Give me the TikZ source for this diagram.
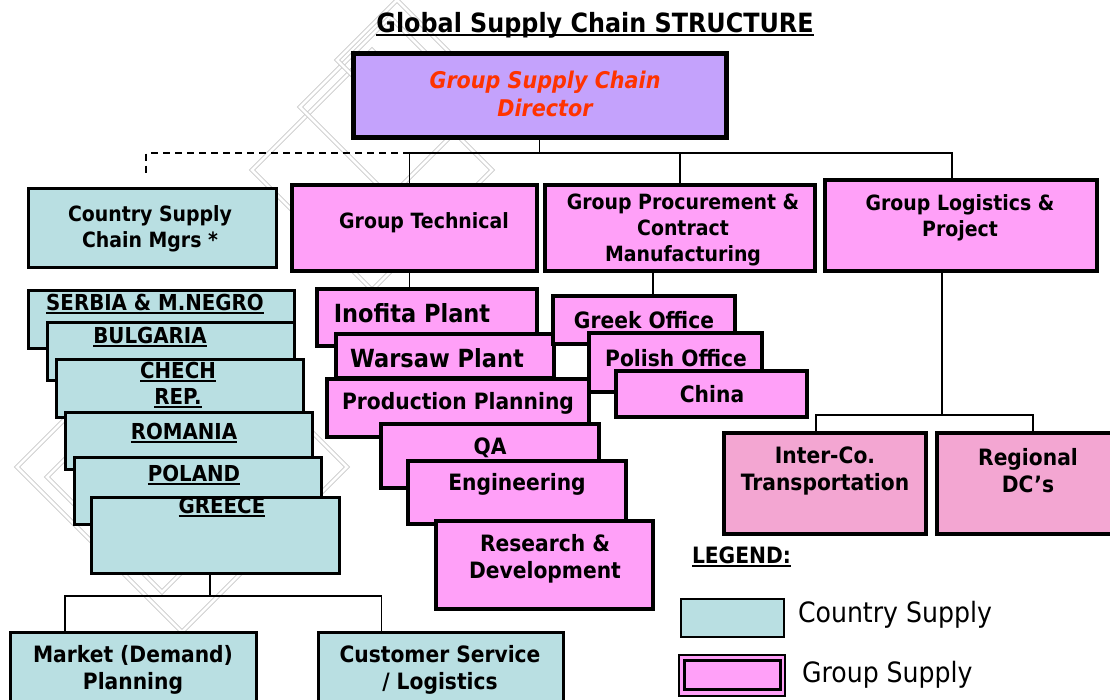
\documentclass[tikz,border=0pt]{standalone}
\usepackage{fontspec}
\setmainfont{DejaVu Sans}[FakeStretch=0.9]
% underline drawn as a rule just below the baseline
\newcommand{\ulbox}[1]{\setbox0\hbox{#1}\rlap{\rule[-0.16em]{\wd0}{0.075em}}\box0}
\definecolor{countryfill}{HTML}{B9DFE2}
\definecolor{groupfill}{HTML}{FFA0F8}
\definecolor{directorfill}{HTML}{C4A2FC}
\definecolor{logfill}{HTML}{F3A6D2}
\definecolor{directortext}{HTML}{FF3300}
\definecolor{markgray}{HTML}{C8C8C8}
\begin{document}
\begin{tikzpicture}[x=1pt,y=-1pt,
  every node/.style={inner sep=0pt,outer sep=0pt},
  box/.style={draw=black,anchor=north west},
  cbox/.style={box,fill=countryfill,line width=3pt},
  gbox/.style={box,fill=groupfill,line width=3.5pt},
  lbox/.style={box,fill=logfill,line width=4pt},
  lbl/.style={font=\fontsize{22.5}{27}\selectfont\bfseries,align=center},
  toplbl/.style={font=\fontsize{21}{26}\selectfont\bfseries,align=center},
  ctylbl/.style={font=\fontsize{22}{26}\selectfont\bfseries,align=center},
  biglbl/.style={font=\fontsize{25}{30}\selectfont\bfseries},
  conn/.style={line width=1.5pt},
  dashconn/.style={line width=1.5pt,dash pattern=on 7pt off 5pt},
  wmline/.style={draw=markgray,line width=1pt,double=white,double distance=2.5pt}]
\useasboundingbox (0,0) rectangle (1110,699);

% faint diamond watermark in the background
\draw[wmline] (252,170) -- (372,50) -- (492,170) -- (372,290) -- cycle;
\draw[wmline] (300,107) -- (390,17) -- (480,107) -- (390,197) -- cycle;
\draw[wmline] (337,60) -- (397,0) -- (457,60) -- (397,120) -- cycle;
\draw[wmline] (17,467) -- (182,302) -- (347,467) -- (182,632) -- cycle;
\draw[wmline] (47,477) -- (162,362) -- (277,477) -- (162,592) -- cycle;

% title
\node[font=\fontsize{26.5}{30}\selectfont\bfseries] (title) at (595,25) {\ulbox{Global Supply Chain STRUCTURE}};

% director
\node[box,fill=directorfill,line width=5pt,minimum width=373pt,minimum height=84pt] (dir) at (353,53) {};
\node[font=\fontsize{23}{28}\selectfont\bfseries\itshape,text=directortext,align=center] (dir-t) at (545,94) {Group Supply Chain\\Director};

% second level
\node[cbox,minimum width=248pt,minimum height=79pt] (cmgr) at (28,188) {};
\node[toplbl] (cmgr-t) at (150,229) {Country Supply\\Chain Mgrs *};
\node[gbox,line width=4pt,minimum width=245pt,minimum height=86pt] (gtech) at (292,185) {};
\node[toplbl] (gtech-t) at (424,223) {Group Technical};
\node[gbox,line width=4pt,minimum width=270pt,minimum height=86pt] (gproc) at (545,185) {};
\node[toplbl] (gproc-t) at (683,230) {Group Procurement \&\\Contract\\Manufacturing};
\node[gbox,line width=4pt,minimum width=272pt,minimum height=91pt] (glog) at (825,180) {};
\node[toplbl] (glog-t) at (960,218) {Group Logistics \&\\Project};

% connectors from the director
\coordinate (bus) at (0,153);
\draw[conn] (dir.south) -- (dir.south |- bus);
\draw[conn] (gtech.north) ++(-5,0) coordinate (gtn) -- (gtn |- bus) -- ([xshift=-9pt]glog.north |- bus) -- ([xshift=-9pt]glog.north);
\draw[conn] (gproc.north) -- (gproc.north |- bus);
\draw[dashconn] (gtn |- bus) -- ([xshift=-6pt]cmgr.north |- bus) -- ++(0,20);

% country cards
\node[cbox,minimum width=266pt,minimum height=58pt] (serbia) at (28,290) {};
\node[ctylbl] (serbia-t) at (155,304) {\ulbox{SERBIA \& M.NEGRO}};
\node[cbox,minimum width=247pt,minimum height=58pt] (bulgaria) at (47,322) {};
\node[ctylbl] (bulgaria-t) at (150,337) {\ulbox{BULGARIA}};
\node[cbox,minimum width=247pt,minimum height=58pt] (chech) at (56,359) {};
\node[ctylbl] (chech-t) at (178,385) {\ulbox{CHECH}\\\ulbox{REP.}};
\node[cbox,minimum width=247pt,minimum height=57pt] (romania) at (65,412) {};
\node[ctylbl] (romania-t) at (184,433) {\ulbox{ROMANIA}};
\node[cbox,minimum width=247pt,minimum height=67pt] (poland) at (74,457) {};
\node[ctylbl] (poland-t) at (194,475) {\ulbox{POLAND}};
\node[cbox,minimum width=248pt,minimum height=76pt] (greece) at (91,497) {};
\node[ctylbl] (greece-t) at (222,507) {\ulbox{GREECE}};

\node[cbox,minimum width=246pt,minimum height=80pt] (market) at (10,632) {};
\node[lbl] (market-t) at (133,670) {Market (Demand)\\Planning};
\node[cbox,minimum width=245pt,minimum height=80pt] (custsvc) at (318,632) {};
\node[lbl] (custsvc-t) at (440,670) {Customer Service\\/ Logistics};

\coordinate (cbus) at (0,596);
\draw[conn] (greece.south) ++(-5,0) coordinate (grs) -- (grs |- cbus);
\draw[conn] ([xshift=-68pt]market.north) |- (cbus -| grs) -| ([xshift=-59pt]custsvc.north);

% technical cards
\draw[conn] (gtech.south) ++(-5,0) coordinate (gt0) -- ++(0,20);
\node[gbox,minimum width=220pt,minimum height=57pt] (inofita) at (317,289) {};
\node[biglbl] (inofita-t) at (412,313) {Inofita Plant};
\node[gbox,minimum width=218pt,minimum height=44pt] (warsaw) at (336,334) {};
\node[biglbl] (warsaw-t) at (437,358) {Warsaw Plant};
\node[gbox,minimum width=262pt,minimum height=58pt] (prodplan) at (327,379) {};
\node[lbl] (prodplan-t) at (458,403) {Production Planning};
\node[gbox,minimum width=218pt,minimum height=64pt] (qa) at (381,424) {};
\node[lbl] (qa-t) at (490,448) {QA};
\node[gbox,minimum width=218pt,minimum height=63pt] (eng) at (408,461) {};
\node[lbl] (eng-t) at (517,484) {Engineering};
\node[gbox,minimum width=217pt,minimum height=88pt] (rnd) at (436,521) {};
\node[lbl] (rnd-t) at (545,559) {Research \&\\Development};

% procurement cards
\draw[conn] (gproc.south) ++(-27,0) coordinate (gp0) -- ++(0,26);
\node[gbox,minimum width=182pt,minimum height=48pt] (greek) at (553,296) {};
\node[lbl] (greek-t) at (644,320) {Greek Office};
\node[gbox,minimum width=173pt,minimum height=59pt] (polish) at (589,333) {};
\node[lbl] (polish-t) at (676,358) {Polish Office};
\node[gbox,minimum width=191pt,minimum height=46pt] (china) at (616,371) {};
\node[lbl] (china-t) at (712,394) {China};

% logistics cards
\node[lbox,minimum width=202pt,minimum height=101pt] (interco) at (724,433) {};
\node[lbl] (interco-t) at (825,471) {Inter-Co.\\Transportation};
\node[lbox,minimum width=178pt,minimum height=101pt] (regional) at (937,433) {};
\node[lbl] (regional-t) at (1028,471) {Regional\\DC’s};
\coordinate (lbus) at (942,415);
\draw[conn] (glog.south -| lbus) -- (lbus);
\draw[conn] ([xshift=-9pt]interco.north) |- (lbus) -| ([xshift=7pt]regional.north);

% legend
\node[lbl,anchor=west] (legend) at (692,557) {\ulbox{LEGEND:}};
\node[box,fill=countryfill,line width=2.5pt,minimum width=103pt,minimum height=38pt] (leg-c) at (681,599) {};
\node[font=\fontsize{28}{32}\selectfont,anchor=west] (leg-c-t) at (798,615) {Country Supply};
\node[box,fill=groupfill,line width=2pt,minimum width=106pt,minimum height=41pt] (leg-g) at (679,655) {};
\node[box,fill=groupfill,line width=3pt,minimum width=96pt,minimum height=29pt] (leg-g-in) at (684,660) {};
\node[font=\fontsize{28}{32}\selectfont,anchor=west] (leg-g-t) at (802,675) {Group Supply};
\end{tikzpicture}
\end{document}
